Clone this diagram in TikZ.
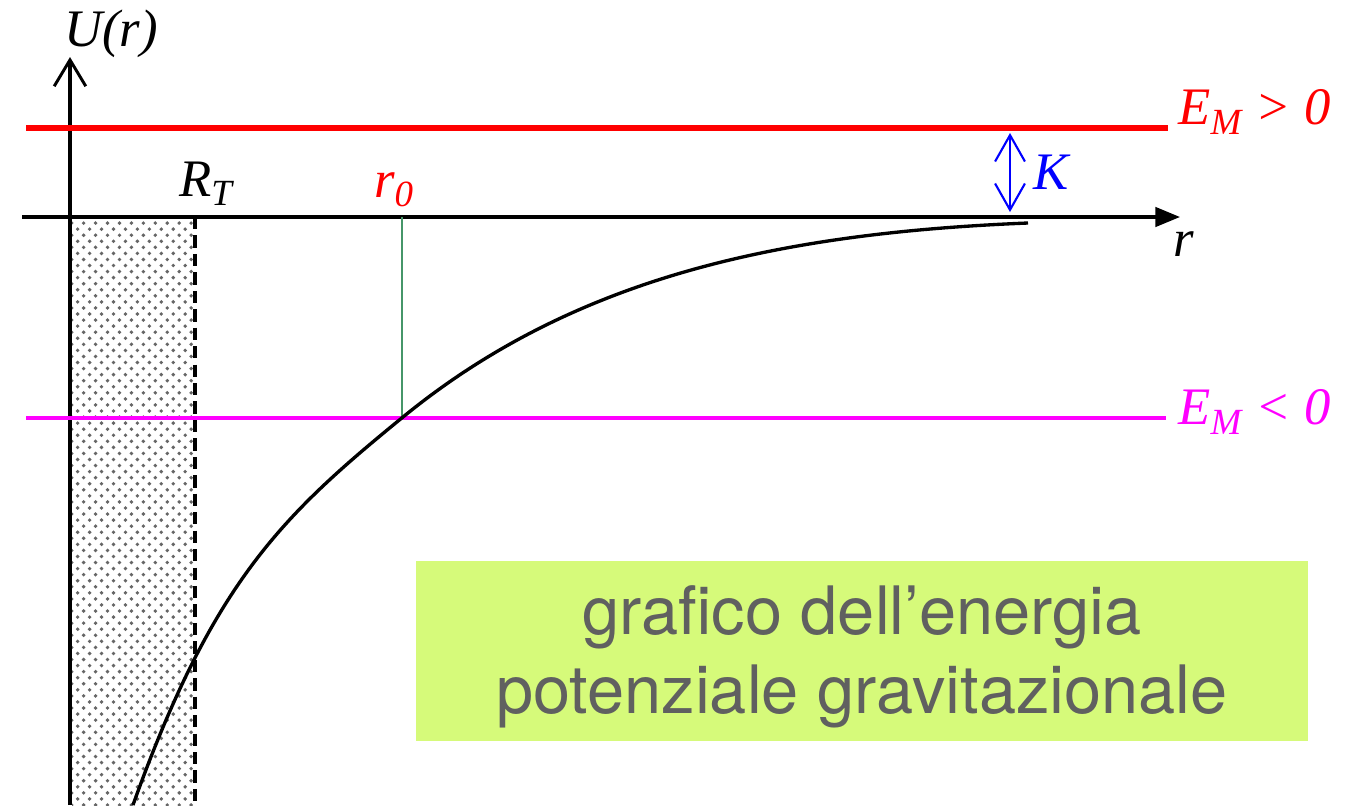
\documentclass[tikz,border=0pt]{standalone}
\usepackage{fontspec}
\setmainfont{Liberation Serif}
\newfontfamily\boxfont{TeX Gyre Heros}
\usetikzlibrary{arrows.meta,patterns}
\definecolor{boxgreen}{RGB}{214,250,122}
\definecolor{boxtext}{RGB}{96,96,96}
\definecolor{levelgreen}{RGB}{70,150,105}
\definecolor{levelred}{RGB}{255,0,0}
\definecolor{levelpink}{RGB}{255,0,255}
\definecolor{kblue}{RGB}{0,0,255}
\pgfdeclarepatternformonly{earthdots}{\pgfqpoint{-1.2pt}{-1.2pt}}{\pgfqpoint{5.6pt}{5.7pt}}{\pgfqpoint{6.8pt}{6.9pt}}{%
  \pgfpathcircle{\pgfqpoint{0pt}{0pt}}{1.1pt}%
  \pgfpathcircle{\pgfqpoint{3.4pt}{3.45pt}}{1.1pt}%
  \pgfusepath{fill}}

\begin{document}
\begin{tikzpicture}[x=0.02cm, y=-0.02cm,
  axis/.style={line width=1.9pt, black},
  level/.style={line width=#1},
  lab/.style={font=\fontsize{30}{33}\selectfont\itshape, inner sep=0pt},
  curve/.style={line width=1.9pt, black}
]
\useasboundingbox (0,0) rectangle (1364,805);
\coordinate (O) at (70,217);
\coordinate (rt) at (195,217);
\coordinate (rz) at (402,217);
\fill[pattern=earthdots, pattern color=black!60] (72,217) rectangle (195,805);
\draw[line width=1.9pt, dash pattern=on 7pt off 3.5pt] (rt) -- (195,805);
\draw[axis, -{Triangle[length=14pt, width=11pt]}] (22,217) -- (1180,217);
\draw[axis, -{Straight Barb[length=15pt, width=18pt, line width=1.7pt]}] (70,805) -- (70,57);
\draw[level=3.2pt, levelred] (26,128) -- (1168,128);
\draw[level=2.8pt, levelpink] (26,418) -- (1166,418);
\draw[line width=1.3pt, levelgreen] (rz) -- (402,418);
\draw[curve] (133,805) .. controls (213,581) and (283,515) .. (403,417)
  .. controls (573,278) and (778,233) .. (1028,223);
\draw[line width=1.2pt, kblue, {Straight Barb[length=15pt, width=17pt, line width=1.2pt]}-{Straight Barb[length=15pt, width=17pt, line width=1.2pt]}] (1010,133) -- (1010,212);
\node[lab] (U) at (111,34) {U(r)};
\node[lab] (RT) at (206,184) {R\textsubscript{T}};
\node[lab, levelred] (r0) at (394,190) {r\textsubscript{0}};
\node[lab, kblue] (K) at (1051,172) {K};
\node[lab] (r) at (1184,244) {r};
\node[lab, levelred, anchor=west] (Epos) at (1178,112) {E\textsubscript{M} > 0};
\node[lab, levelpink, anchor=west] (Eneg) at (1178,412) {E\textsubscript{M} < 0};
\fill[boxgreen] (416,561) rectangle (1308,741);
\node[font=\boxfont\fontsize{38}{45}\selectfont, text=boxtext, align=center] (cap) at (862,657) {grafico dell’energia\\potenziale gravitazionale};
\end{tikzpicture}
\end{document}
